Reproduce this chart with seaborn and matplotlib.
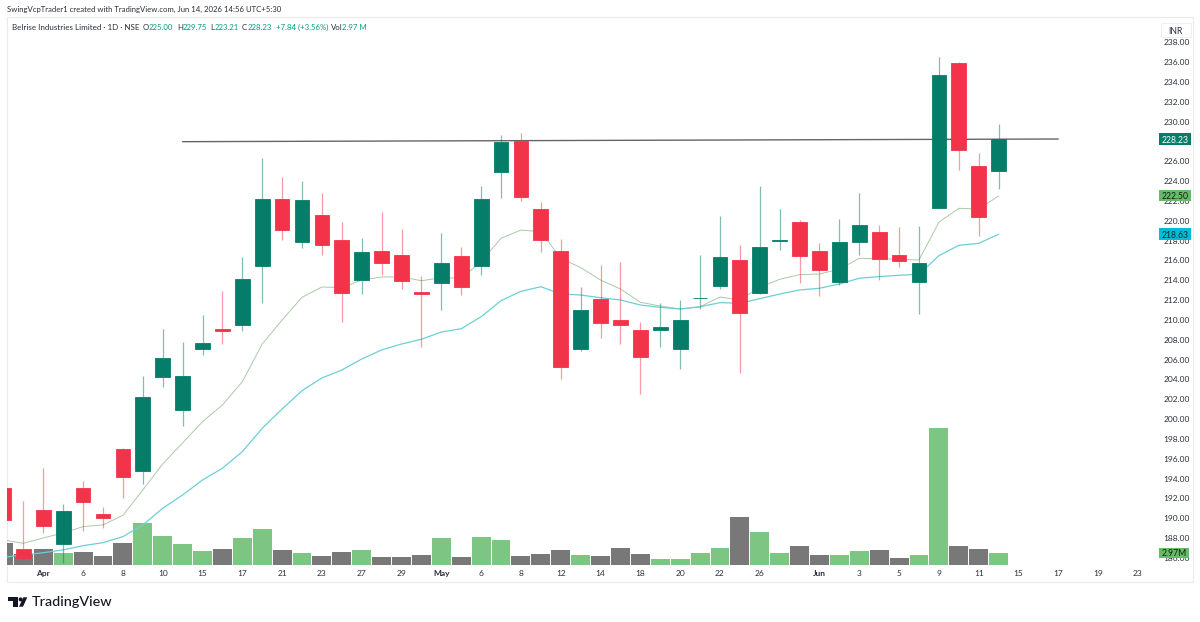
import pandas as pd
import seaborn as sns
import matplotlib.pyplot as plt
from matplotlib.patches import Rectangle, Polygon, Circle

# daily candles
opens = [193.06, 186.91, 190.84, 187.38, 193.03, 190.44, 197.02, 194.74, 204.25, 200.95,
         207.04, 209.05, 209.46, 215.44, 222.19, 217.89, 220.61, 218.06, 214.05, 216.98,
         216.51, 212.85, 213.75, 216.44, 215.44, 224.94, 228.04, 221.15, 216.98, 207.04,
         212.11, 209.99, 208.98, 208.98, 207.04, 212.20, 213.42, 216.01, 212.68, 217.95,
         219.87, 216.98, 213.82, 217.89, 218.83, 216.51, 213.85, 221.25, 235.93, 225.52,
         225.00]
highs = [193.06, 191.75, 195.10, 191.44, 193.76, 191.17, 197.10, 204.35, 209.05, 207.80,
         210.53, 212.92, 216.37, 226.29, 224.41, 224.00, 222.76, 219.90, 218.26, 220.85,
         219.20, 214.43, 218.73, 217.35, 223.53, 228.61, 228.81, 221.89, 218.13, 213.29,
         215.54, 215.87, 209.76, 211.74, 211.98, 216.51, 220.48, 217.52, 223.50, 221.15,
         220.04, 217.78, 220.20, 222.79, 219.54, 219.34, 219.50, 236.47, 236.00, 226.80,
         229.75]
lows = [189.83, 185.80, 188.55, 185.50, 188.75, 189.00, 192.02, 193.43, 203.20, 199.30,
        206.46, 207.54, 208.91, 211.67, 218.06, 217.22, 216.58, 209.82, 212.61, 214.50,
        213.09, 207.24, 211.00, 212.54, 214.56, 222.32, 222.02, 216.85, 204.04, 206.84,
        208.15, 207.60, 202.53, 207.30, 205.08, 211.10, 213.09, 204.62, 212.60, 217.05,
        213.72, 212.44, 213.49, 216.58, 214.05, 215.31, 210.57, 221.25, 225.11, 218.46,
        223.21]
closes = [189.83, 186.00, 189.26, 190.77, 191.65, 190.06, 194.17, 202.20, 206.13, 204.38,
          207.64, 208.85, 214.09, 222.19, 219.03, 222.12, 217.55, 212.75, 216.82, 215.71,
          213.95, 212.64, 215.74, 213.29, 222.16, 227.94, 222.36, 218.09, 205.28, 211.03,
          209.65, 209.46, 206.29, 209.26, 209.99, 212.24, 216.37, 210.67, 217.32, 218.09,
          216.44, 215.00, 217.89, 219.54, 216.14, 215.97, 215.74, 234.72, 227.13, 220.41,
          228.23]

# the two moving averages
ma_fast = [187.81, 187.48, 188.02, 188.52, 189.16, 189.33, 190.30, 192.86, 195.48, 197.60,
           199.74, 201.42, 203.77, 207.57, 209.99, 212.28, 213.32, 213.25, 214.02, 214.33,
           214.33, 213.95, 214.26, 214.20, 215.87, 218.23, 219.06, 218.89, 216.21, 215.28,
           214.02, 213.12, 211.78, 211.40, 211.10, 211.33, 212.31, 212.01, 213.29, 214.09,
           214.56, 214.63, 215.10, 216.21, 216.17, 216.11, 216.04, 219.84, 221.25, 221.18,
           222.50]
ma_slow = [186.07, 186.30, 186.53, 186.81, 187.24, 187.54, 188.15, 189.33, 191.01, 192.35,
           193.86, 195.04, 196.72, 199.07, 201.02, 202.87, 204.15, 204.95, 206.06, 206.97,
           207.57, 208.05, 208.78, 209.11, 210.32, 211.94, 212.88, 213.35, 212.61, 212.51,
           212.24, 212.01, 211.50, 211.27, 211.10, 211.33, 211.74, 211.68, 212.14, 212.61,
           213.02, 213.19, 213.62, 214.20, 214.37, 214.50, 214.60, 216.47, 217.52, 217.72,
           218.63]

# volume in millions, and which way the volume pane coloured each bar
volumes = [5.54, 2.81, 4.18, 3.16, 3.33, 2.30, 5.63, 10.66, 7.51, 5.29,
           3.67, 4.18, 6.99, 9.21, 3.84, 3.16, 2.30, 3.33, 3.84, 1.96,
           1.96, 2.64, 6.82, 2.13, 7.25, 6.31, 2.30, 2.81, 3.84, 2.64,
           2.30, 4.35, 2.81, 1.62, 1.45, 2.99, 4.35, 12.37, 8.53, 2.99,
           4.95, 2.64, 2.47, 3.67, 3.84, 1.79, 2.47, 34.97, 4.95, 4.01,
           2.97]
volume_dir = ['down', 'down', 'down', 'up', 'down', 'down', 'down', 'up', 'up', 'up',
              'up', 'down', 'up', 'up', 'down', 'up', 'down', 'down', 'up', 'down',
              'down', 'down', 'up', 'down', 'up', 'up', 'down', 'down', 'down', 'up',
              'down', 'down', 'down', 'up', 'up', 'up', 'up', 'down', 'up', 'up',
              'down', 'down', 'up', 'up', 'down', 'down', 'up', 'up', 'down', 'down',
              'up']

# horizontal resistance line
trend_bars = [9, 53]
trend_prices = [227.97, 228.24]

time_ticks = [2, 4, 6, 8, 10, 12, 14, 16, 18, 20, 22, 24, 26, 28, 30, 32, 34, 36, 38,
              41, 43, 45, 47, 49, 51, 53, 55, 57]
time_labels = ['Apr', '6', '8', '10', '15', '17', '21', '23', '27', '29', 'May', '6', '8',
               '12', '14', '18', '20', '22', '26', 'Jun', '3', '5', '9', '11', '15', '17',
               '19', '23']
price_ticks = list(range(186, 240, 2))
months = ['Apr', 'May', 'Jun']

UP = '#067D68'
DOWN = '#F23349'
VOL_UP = '#7DC582'
VOL_DOWN = '#787878'
DARK = '#2A2E39'
VALUE = '#089981'

df = pd.DataFrame({'open': opens, 'high': highs, 'low': lows, 'close': closes,
                   'fast': ma_fast, 'slow': ma_slow, 'volume': volumes, 'vdir': volume_dir})
df['bar'] = df.index
df['top'] = df[['open', 'close']].max(axis=1)
df['bottom'] = df[['open', 'close']].min(axis=1)
df['body'] = df['top'] - df['bottom']
df['rising'] = df['close'] >= df['open']

sns.set_theme(style='white')
plt.rcParams['font.family'] = ['Lato', 'DejaVu Sans']

W, H = 1200, 622
fig = plt.figure(figsize=(W / 100, H / 100), dpi=100, facecolor='white')


def px_x(x):
    return x / W


def px_y(y):
    return 1 - y / H


def box(x0, y0, x1, y1, **kws):
    # rectangle given in picture pixels
    fig.add_artist(Rectangle((px_x(x0), px_y(y1)), (x1 - x0) / W, (y1 - y0) / H,
                             transform=fig.transFigure, **kws))


# outer frame of the screenshot
box(6.5, 17, 1193, 582, fill=False, edgecolor='#EBEBEB', linewidth=0.8)

ax = fig.add_axes([px_x(7), px_y(565), 1150 / W, 548 / H])
vol_ax = ax.twinx()
ax.set_zorder(2)
vol_ax.set_zorder(1)
ax.patch.set_visible(False)

# volume pane at the bottom
sns.barplot(data=df, x='bar', y='volume', hue='vdir', palette={'up': VOL_UP, 'down': VOL_DOWN},
            dodge=False, native_scale=True, width=0.95, saturation=1, errorbar=None,
            legend=False, linewidth=0, ax=vol_ax)
vol_ax.set_ylim(0, 140.3)
vol_ax.set_yticks([])
vol_ax.set_ylabel('')

# moving averages and the level line sit behind the candles
sns.lineplot(data=df, x='bar', y='fast', color='#A8CBA6', linewidth=0.7, zorder=1, ax=ax)
sns.lineplot(data=df, x='bar', y='slow', color='#6CCFD6', linewidth=0.9, zorder=1, ax=ax)
sns.lineplot(x=trend_bars, y=trend_prices, color='#666666', linewidth=1.0, zorder=1, ax=ax)

# candles: wicks first, bodies on top
for rising, colour in [(True, UP), (False, DOWN)]:
    part = df[df['rising'] == rising]
    ax.vlines(part['bar'], part['low'], part['high'], color=colour, alpha=0.5, linewidth=0.9, zorder=2)
    sns.barplot(data=part, x='bar', y='body', bottom=part['bottom'].values, native_scale=True,
                width=0.74, color=colour, saturation=1, errorbar=None, edgecolor=colour,
                linewidth=0.6, zorder=3, ax=ax)

ax.set_xlim(0.176, 57.96)
ax.set_ylim(185.29, 240.54)
vol_ax.set_xlim(0.176, 57.96)
ax.set_xlabel('')
ax.set_ylabel('')
ax.yaxis.tick_right()
ax.set_yticks(price_ticks)
ax.set_yticklabels(['%.2f' % p for p in price_ticks])
ax.set_xticks(time_ticks)
ax.set_xticklabels(time_labels)
ax.tick_params(axis='both', length=0, colors=DARK, labelsize=6.0)
ax.tick_params(axis='y', pad=4.8)
ax.tick_params(axis='x', pad=3.5)
for label in ax.get_xticklabels():
    if label.get_text() in months:
        label.set_fontweight('bold')
sns.despine(ax=ax, left=True, right=True, top=True, bottom=True)
sns.despine(ax=vol_ax, left=True, right=True, top=True, bottom=True)


# price tags on the right hand scale
def tag(x0, x1, y0, y1, text, face, colour):
    box(x0, y0, x1, y1, facecolor=face, edgecolor='none', zorder=9)
    fig.text(px_x((x0 + x1) / 2), px_y((y0 + y1) / 2), text, ha='center', va='center_baseline',
             fontsize=6.2, color=colour, zorder=10)


tag(1158.5, 1191, 133, 145.5, '228.23', UP, 'white')
tag(1158.5, 1191, 190, 201, '222.50', '#66BB6A', '#10200F')
tag(1158.5, 1191, 228, 240, '218.63', '#00BCD9', '#0A2A33')
tag(1159, 1189, 547.5, 558, '2.97M', '#66BB6A', '#10200F')
tag(1161, 1190.5, 23, 37, 'INR', 'white', DARK)
box(1161, 23, 1190.5, 37, fill=False, edgecolor='#EDEDED', linewidth=0.6, zorder=9)

# header lines
fig.text(px_x(7), px_y(9.5), 'SwingVcpTrader1 created with TradingView.com, Jun 14, 2026 14:56 UTC+5:30',
         ha='left', va='center', fontsize=5.6, color=DARK)
fig.text(px_x(12), px_y(27.5), 'Belrise Industries Limited · 1D · NSE', ha='left', va='center',
         fontsize=5.8, color=DARK)
legend_bits = [(143, 'O', DARK), (148.5, '225.00', VALUE), (177, 'H', DARK), (182.5, '229.75', VALUE),
               (210, 'L', DARK), (215, '223.21', VALUE), (242, 'C', DARK), (247.5, '228.23', VALUE),
               (276, '+7.84 (+3.56%)', VALUE), (331, 'Vol', DARK), (342, '2.97 M', VALUE)]
for x, text, colour in legend_bits:
    fig.text(px_x(x), px_y(27.5), text, ha='left', va='center', fontsize=5.6, color=colour)

# logo: the mark, then the word
fig.add_artist(Polygon([(px_x(7.7), px_y(597.3)), (px_x(18.3), px_y(597.3)), (px_x(18.3), px_y(606.7)),
                        (px_x(12.7), px_y(606.7)), (px_x(12.7), px_y(601.3)), (px_x(7.7), px_y(601.3))],
                       closed=True, transform=fig.transFigure, facecolor='#131722', edgecolor='none'))
fig.add_artist(Polygon([(px_x(23.3), px_y(597.3)), (px_x(27.3), px_y(597.3)),
                        (px_x(23), px_y(606.7)), (px_x(19), px_y(606.7))],
                       closed=True, transform=fig.transFigure, facecolor='#131722', edgecolor='none'))
fig.add_artist(Circle((20.6, H - 599.4), 2, transform=None, facecolor='#131722', edgecolor='none'))
fig.text(px_x(32), px_y(602.5), 'TradingView', ha='left', va='center', fontsize=10.4, color='#131722',
         fontweight='medium')

plt.savefig('out.png', dpi=100)
